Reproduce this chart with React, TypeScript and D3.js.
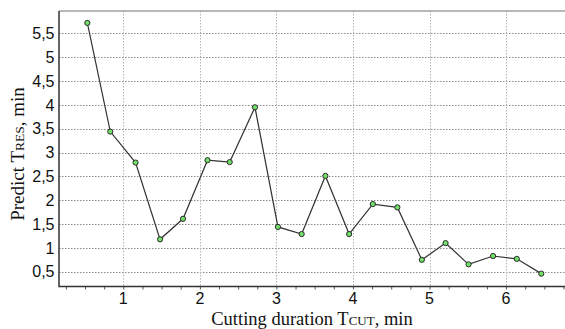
import { useEffect, useRef } from "react";
import * as d3 from "d3";

// values
const cuttingDuration = [
  0.53, 0.83, 1.16, 1.48, 1.78, 2.1, 2.39, 2.72, 3.02, 3.33, 3.64, 3.95, 4.26,
  4.58, 4.9, 5.21, 5.51, 5.83, 6.14, 6.46,
];
const predictRes = [
  5.72, 3.44, 2.79, 1.18, 1.61, 2.84, 2.8, 3.95, 1.44, 1.29, 2.51, 1.29, 1.92,
  1.85, 0.75, 1.1, 0.655, 0.83, 0.77, 0.46,
];
const xTicks = [1, 2, 3, 4, 5, 6];
const xMinorTicks = [
  0.25, 0.5, 0.75, 1, 1.25, 1.5, 1.75, 2, 2.25, 2.5, 2.75, 3, 3.25, 3.5, 3.75,
  4, 4.25, 4.5, 4.75, 5, 5.25, 5.5, 5.75, 6, 6.25, 6.5, 6.75,
];
const yTicks = [0.5, 1, 1.5, 2, 2.5, 3, 3.5, 4, 4.5, 5, 5.5];

const W = 565;
const H = 329;

export default function App() {
  const ref = useRef<SVGSVGElement>(null);

  useEffect(() => {
    const svg = d3.select(ref.current);
    svg.selectAll("*").remove();

    const margin = { top: 11, right: 0, bottom: 42.5, left: 59 };

    const x = d3
      .scaleLinear()
      .domain([0.16, 6.77])
      .range([margin.left, W - margin.right]);
    const y = d3
      .scaleLinear()
      .domain([0.19, 5.97])
      .range([H - margin.bottom, margin.top]);

    const fmt = (d: number) => String(d).replace(".", ",");

    // gitter
    const grid = svg
      .append("g")
      .attr("stroke", "#8c8c8c")
      .attr("stroke-width", 1)
      .attr("stroke-dasharray", "1.5,1.5");
    grid
      .selectAll("line.h")
      .data(yTicks)
      .join("line")
      .attr("x1", margin.left)
      .attr("x2", W)
      .attr("y1", (d) => Math.round(y(d)) + 0.5)
      .attr("y2", (d) => Math.round(y(d)) + 0.5);
    grid
      .selectAll("line.v")
      .data(xTicks)
      .join("line")
      .attr("stroke", "#b5b5b5")
      .attr("x1", (d) => Math.round(x(d)) + 0.5)
      .attr("x2", (d) => Math.round(x(d)) + 0.5)
      .attr("y1", margin.top)
      .attr("y2", H - margin.bottom);

    // top border
    svg
      .append("line")
      .attr("x1", margin.left)
      .attr("x2", W)
      .attr("y1", margin.top)
      .attr("y2", margin.top)
      .attr("stroke", "#a0a0a0")
      .attr("stroke-width", 1.5);

    // x axis: minor ticks + labels
    const xAxis = svg
      .append("g")
      .attr("transform", `translate(0,${H - margin.bottom})`)
      .call(d3.axisBottom(x).tickValues(xMinorTicks).tickSize(3).tickFormat(() => ""));
    xAxis.select(".domain").remove();
    xAxis.selectAll(".tick line").attr("stroke", "#555");

    svg
      .append("g")
      .selectAll("text")
      .data(xTicks)
      .join("text")
      .attr("x", (d) => x(d))
      .attr("y", H - margin.bottom + 17.5)
      .attr("text-anchor", "middle")
      .attr("font-family", "'Liberation Sans', Arial, sans-serif")
      .attr("font-size", 16)
      .attr("fill", "#111")
      .text(fmt);

    // y labels
    svg
      .append("g")
      .selectAll("text")
      .data(yTicks)
      .join("text")
      .attr("x", margin.left - 4.5)
      .attr("y", (d) => y(d))
      .attr("dy", "0.36em")
      .attr("text-anchor", "end")
      .attr("font-family", "'Liberation Sans', Arial, sans-serif")
      .attr("font-size", 16)
      .attr("fill", "#111")
      .text(fmt);

    // axis lines
    svg
      .append("path")
      .attr("d", `M${margin.left},${margin.top}V${H - margin.bottom}H${W}`)
      .attr("fill", "none")
      .attr("stroke", "#333")
      .attr("stroke-width", 1.5);

    // line
    const pts = cuttingDuration.map((d, i) => [d, predictRes[i]] as [number, number]);
    const line = d3
      .line<[number, number]>()
      .x((d) => x(d[0]))
      .y((d) => y(d[1]));

    svg
      .append("path")
      .datum(pts)
      .attr("fill", "none")
      .attr("stroke", "#333")
      .attr("stroke-width", 1.2)
      .attr("d", line);

    svg
      .append("g")
      .selectAll("circle")
      .data(pts)
      .join("circle")
      .attr("cx", (d) => x(d[0]))
      .attr("cy", (d) => y(d[1]))
      .attr("r", 2.6)
      .attr("fill", "#72e06a")
      .attr("stroke", "#2a2a2a")
      .attr("stroke-width", 1);

    // axis titles
    const serif = "'Liberation Serif', 'Times New Roman', serif";
    const xt = svg
      .append("text")
      .attr("x", 312)
      .attr("y", 324.5)
      .attr("text-anchor", "middle")
      .attr("font-family", serif)
      .attr("font-size", 18.5)
      .attr("fill", "#111");
    xt.append("tspan").text("Cutting duration T");
    xt.append("tspan").attr("font-size", 13).text("CUT");
    xt.append("tspan").text(", min");

    const yt = svg
      .append("text")
      .attr("transform", `translate(24,154) rotate(-90)`)
      .attr("text-anchor", "middle")
      .attr("font-family", serif)
      .attr("font-size", 19)
      .attr("fill", "#111");
    yt.append("tspan").text("Predict T");
    yt.append("tspan").attr("font-size", 13.5).text("RES");
    yt.append("tspan").text(", min");
  }, []);

  return (
    <svg
      ref={ref}
      width={W}
      height={H}
      viewBox={`0 0 ${W} ${H}`}
      style={{ position: "absolute", left: 0, top: 0, background: "#fff" }}
    />
  );
}
